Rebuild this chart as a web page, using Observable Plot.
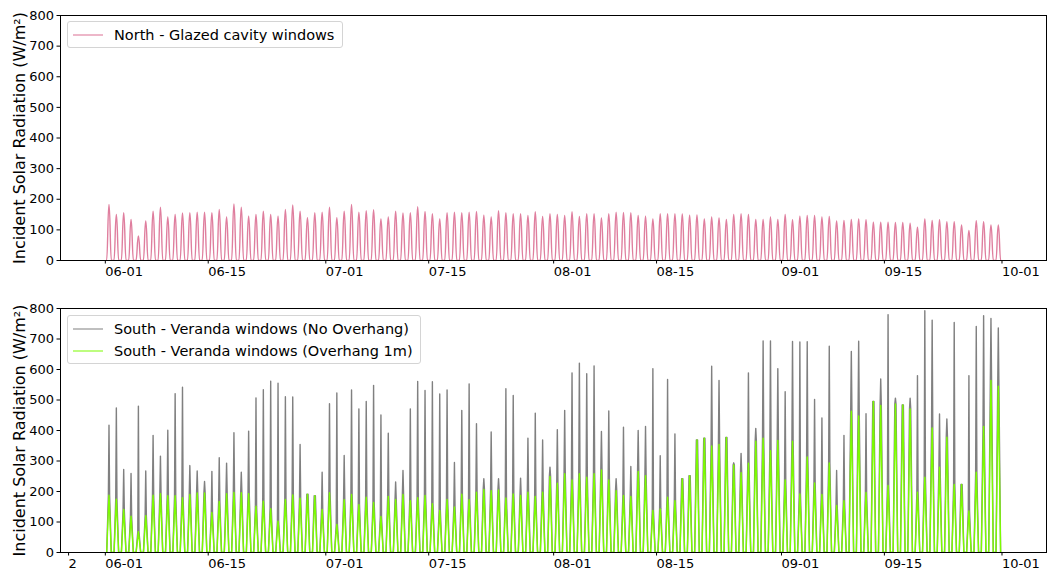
<!DOCTYPE html>
<html><head><meta charset="utf-8">
<script src="https://cdn.jsdelivr.net/npm/d3@7"></script>
<script src="https://cdn.jsdelivr.net/npm/@observablehq/plot@0.6"></script>
<style>
body{margin:0;background:#fff;font-family:"DejaVu Sans",sans-serif;}
#wrap{position:relative;width:1047px;height:571px;overflow:hidden;}
.panel{position:absolute;left:0;}
.legend{position:absolute;box-sizing:border-box;background:rgba(255,255,255,0.8);border:1px solid #d4d4d4;border-radius:3px;font-size:14.5px;color:#000;}
.item{position:absolute;white-space:nowrap;line-height:1;transform:translateY(-50%);}
.swatch{position:absolute;height:0;width:30px;border-top:1.5px solid;transform:translateY(-50%);}
</style></head>
<body><div id="wrap"></div>
<script>
// First day of the hourly record (one peak per day, Jun 1 .. Sep 30)
const firstDay = Date.UTC(2023, 5, 1);
const lastHour = Date.UTC(2023, 8, 30, 23);

// Daily peak incident radiation (W/m²)
const northGlazedCavity = [
  183,150,156,134,80,129,161,174,142,150,155,156,158,158,156,167,142,185,174,145,150,161,150,145,167,181,161,140,156,158,
  174,140,161,183,158,163,166,136,142,161,155,156,176,160,153,136,156,158,156,158,160,148,142,163,156,153,153,147,159,144,153,
  150,147,159,144,153,153,139,153,158,157,156,147,145,136,153,153,153,152,148,149,136,142,139,134,150,153,150,134,134,142,
  134,150,133,145,147,147,142,144,129,131,134,136,133,125,125,125,124,124,122,109,136,131,133,127,127,116,98,130,127,116,116
];
const southNoOverhang = [
  417,474,272,259,480,267,384,316,401,521,542,285,267,233,266,311,293,393,263,398,507,534,562,555,511,510,354,149,164,263,
  488,523,318,533,471,495,548,451,391,231,269,471,561,531,560,520,533,295,466,553,422,242,395,242,537,515,244,375,457,369,280,
  403,466,589,621,586,612,397,464,242,411,282,400,413,603,317,567,389,242,252,369,375,611,564,377,294,325,589,407,694,694,603,
  527,692,690,691,502,441,676,269,384,659,693,455,495,569,780,506,484,506,580,793,762,454,438,754,223,580,741,776,767,736
];
const southOverhang1m = [
  188,175,141,119,68,121,188,193,186,186,180,190,195,195,131,167,193,197,196,193,152,168,144,103,174,189,178,191,186,141,
  196,92,173,190,157,181,164,118,184,174,190,170,180,187,160,138,174,149,191,173,198,207,203,205,179,192,187,198,184,198,249,
  227,258,238,258,247,258,271,238,203,187,184,266,252,138,143,181,170,242,252,369,375,349,354,377,287,262,293,365,375,334,367,
  238,365,192,313,228,190,294,154,170,463,448,197,495,482,220,487,484,471,198,247,408,280,378,223,223,136,263,413,564,545
];

// Tick labels
const tickDates = ["2023-06-01","2023-06-15","2023-07-01","2023-07-15","2023-08-01","2023-08-15","2023-09-01","2023-09-15","2023-10-01"];
const extraTick = "2023-05-27";
const extraTickLabel = "2";
const yTicks = [0,100,200,300,400,500,600,700,800];
const yLabel = "Incident Solar Radiation (W/m²)";
const labels = {
  north: "North - Glazed cavity windows",
  noOverhang: "South - Veranda windows (No Overhang)",
  overhang: "South - Veranda windows (Overhang 1m)"
};
const colors = {north: "#db7093", noOverhang: "#808080", overhang: "#7cfc00"};

const DAY = 86400000, HOUR = 3600000;
// sunrise / noon / sunset hours used for each daily hump
function dayRows(peaks, rise, set, shoulder) {
  const rows = [];
  peaks.forEach((p, i) => {
    const d0 = firstDay + i * DAY;
    rows.push({date: new Date(d0 + rise * HOUR), value: 0});
    if (shoulder) rows.push({date: new Date(d0 + 10 * HOUR), value: shoulder[i]});
    rows.push({date: new Date(d0 + 12 * HOUR), value: p});
    if (shoulder) rows.push({date: new Date(d0 + 14 * HOUR), value: shoulder[i]});
    rows.push({date: new Date(d0 + set * HOUR), value: 0});
  });
  return rows;
}
const northRows = dayRows(northGlazedCavity, 4, 20);
const grayRows = dayRows(southNoOverhang, 4.5, 19.5, southOverhang1m);
const greenRows = dayRows(southOverhang1m, 4.5, 19.5);

const span = lastHour - firstDay;
const xDomain = [new Date(firstDay - 0.05 * span), new Date(lastHour + 0.05 * span)];
const fmt = d3.utcFormat("%m-%d");

function makePanel(lines, withExtra, height, mt, mb) {
  const ticks = tickDates.map(s => new Date(s + "T00:00Z"));
  if (withExtra) ticks.unshift(new Date(extraTick + "T00:00Z"));
  return Plot.plot({
    width: 1047, height, marginLeft: 60, marginRight: 1, marginTop: mt, marginBottom: mb,
    style: {fontFamily: "DejaVu Sans, sans-serif", color: "#000", background: "transparent", overflow: "visible"},
    x: {type: "utc", domain: xDomain},
    y: {domain: [0, 800]},
    marks: [
      ...lines.map(([rows, color, curve, op]) => Plot.line(rows, {x: "date", y: "value", stroke: color, strokeWidth: 1.4, strokeOpacity: op, curve, clip: true})),
      Plot.axisX({ticks, tickFormat: d => (withExtra && +d === +ticks[0]) ? extraTickLabel : fmt(d), tickSize: 3.5, tickPadding: 2.5, textAnchor: "start", label: null, fontSize: 13}),
      Plot.axisY({ticks: yTicks, tickSize: 3.5, tickPadding: 3, label: null, fontSize: 13}),
      Plot.text([yLabel], {frameAnchor: "left", textAnchor: "middle", rotate: -90, dx: -41, fontSize: 16, text: d => d}),
      Plot.frame({stroke: "#000", strokeWidth: 1})
    ]
  });
}

const wrap = document.getElementById("wrap");
const topPanel = makePanel([[northRows, colors.north, "bump-x", 0.9]], false, 285, 15, 25);
topPanel.classList.add("panel"); topPanel.style.top = "0px";
const bottomPanel = makePanel([[grayRows, colors.noOverhang, "linear", 1], [greenRows, colors.overhang, "linear", 1]], true, 286, 23, 19);
bottomPanel.classList.add("panel"); bottomPanel.style.top = "285px";
wrap.appendChild(topPanel); wrap.appendChild(bottomPanel);

function legend(x, y, w, h, items) {
  const box = document.createElement("div");
  box.className = "legend";
  Object.assign(box.style, {left: x + "px", top: y + "px", width: w + "px", height: h + "px"});
  items.forEach(([text, color], k) => {
    const cy = 12.5 + k * 22;
    const sw = document.createElement("div");
    sw.className = "swatch";
    Object.assign(sw.style, {left: "5px", top: cy + "px", borderTopColor: color});
    const t = document.createElement("div");
    t.className = "item";
    Object.assign(t.style, {left: "46px", top: cy + "px"});
    t.textContent = text;
    box.appendChild(sw); box.appendChild(t);
  });
  wrap.appendChild(box);
}
legend(67, 21, 276, 27, [[labels.north, colors.north]]);
legend(67, 315, 354, 49, [[labels.noOverhang, colors.noOverhang], [labels.overhang, colors.overhang]]);
</script>
</body></html>
